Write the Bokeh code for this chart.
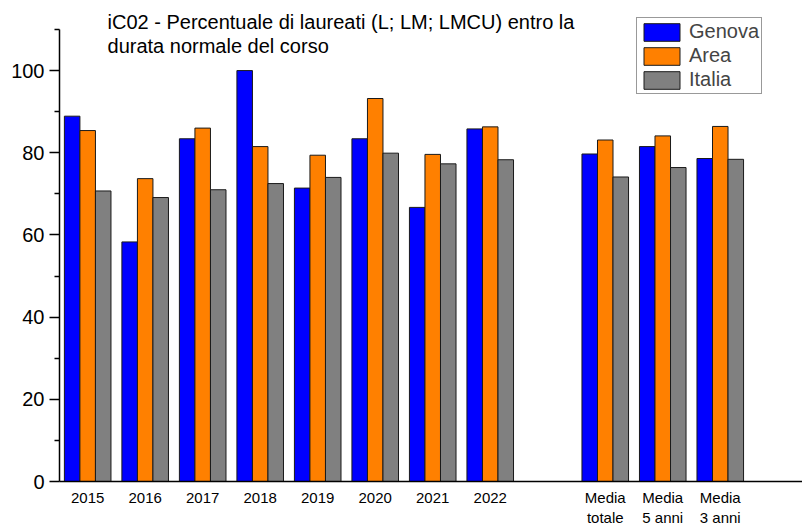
from bokeh.plotting import figure
from bokeh.models import (ColumnDataSource, FixedTicker, Legend, LegendItem, Label, Range1d)
from bokeh.transform import dodge
from bokeh.embed import file_html
from bokeh.resources import INLINE

# ---- data ----
categories = ["2015", "2016", "2017", "2018", "2019", "2020", "2021", "2022",
              "Media\ntotale", "Media\n5 anni", "Media\n3 anni"]
slots = [0, 1, 2, 3, 4, 5, 6, 7, 9, 10, 11]
genova = [88.9, 58.3, 83.4, 100.0, 71.4, 83.4, 66.7, 85.8, 79.7, 81.5, 78.6]
area = [85.4, 73.7, 86.0, 81.5, 79.4, 93.2, 79.6, 86.3, 83.1, 84.1, 86.4]
italia = [70.7, 69.1, 71.0, 72.5, 74.0, 79.9, 77.3, 78.3, 74.1, 76.4, 78.4]
series_names = ["Genova", "Area", "Italia"]
colors = ["#0000FF", "#FF8000", "#808080"]
y_major = [0, 20, 40, 60, 80, 100]
y_minor = [10, 30, 50, 70, 90, 110]
title_lines = ["iC02 - Percentuale di laureati (L; LM; LMCU) entro la",
               "durata normale del corso"]

FONT = "Liberation Sans"
bw = 0.27
Y_END = 117.05

p = figure(width=802, height=528, output_backend="svg", toolbar_location=None,
           x_range=Range1d(-0.49, 12.43), y_range=Range1d(0, Y_END),
           min_border_left=59, min_border_right=0, min_border_top=0, min_border_bottom=30)
p.outline_line_color = None
p.xgrid.visible = False
p.ygrid.visible = False
p.background_fill_color = "white"
p.border_fill_color = "white"

src = ColumnDataSource(dict(x=slots, genova=genova, area=area, italia=italia))
renderers = []
for i, col in enumerate(["genova", "area", "italia"]):
    r = p.vbar(x=dodge("x", (i - 1) * bw), top=col, width=bw, bottom=0, source=src,
               fill_color=colors[i], line_color="#1a1a1a", line_width=1)
    renderers.append(r)

# axes
xa = p.xaxis[0]
xa.ticker = FixedTicker(ticks=slots)
xa.major_label_overrides = {s: c for s, c in zip(slots, categories)}
xa.major_tick_line_color = None
xa.minor_tick_line_color = None
xa.major_tick_out = 0
xa.major_tick_in = 0
xa.minor_tick_out = 0
xa.minor_tick_in = 0
xa.axis_line_width = 1.5
xa.axis_line_color = "black"
xa.major_label_text_font = FONT
xa.major_label_text_font_size = "15px"
xa.major_label_text_line_height = 1.2
xa.major_label_text_color = "black"
xa.major_label_standoff = 7

ya = p.yaxis[0]
ya.ticker = FixedTicker(ticks=y_major, minor_ticks=y_minor)
ya.bounds = (0, 110)
ya.axis_line_width = 1.5
ya.axis_line_color = "black"
ya.major_tick_out = 10
ya.major_tick_in = 0
ya.minor_tick_out = 5
ya.minor_tick_in = 0
ya.major_tick_line_width = 1.5
ya.minor_tick_line_width = 1.5
ya.major_label_text_font = FONT
ya.major_label_text_font_size = "20px"
ya.major_label_text_color = "black"
ya.major_label_standoff = 5

# title
for k, t in enumerate(title_lines):
    p.add_layout(Label(x=0.345, y=114.6 - k * 5.85, text=t, text_font=FONT,
                       text_font_size="20px", text_baseline="top", text_color="black"))

legend = Legend(items=[LegendItem(label=n, renderers=[r]) for n, r in zip(series_names, renderers)],
                location=(577, 387), orientation="vertical",
                glyph_width=45, glyph_height=22, label_height=22, spacing=1, padding=2,
                label_standoff=5, margin=0,
                label_text_font=FONT, label_text_font_size="20px",
                border_line_color="#333333", border_line_width=1,
                background_fill_alpha=1.0)
p.add_layout(legend)

open("out.html", "w").write(file_html(p, INLINE))
